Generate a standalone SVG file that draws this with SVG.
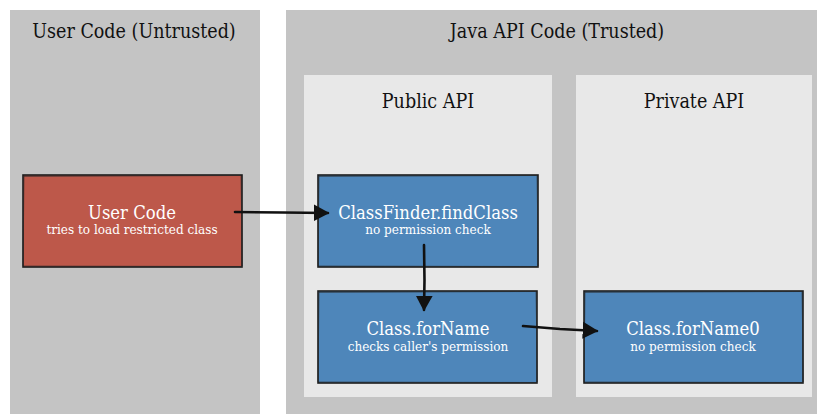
<svg xmlns="http://www.w3.org/2000/svg" width="817" height="414" viewBox="0 0 817 414">
  <style>
    .zone { fill: #c4c4c4; }
    .sub-zone { fill: #e8e8e8; }
    .zone-title { font-family: "DejaVu Serif Condensed", "DejaVu Serif", serif; font-size: 19.5px; fill: #111; text-anchor: middle; }
    .box { stroke: #1c1c1c; stroke-width: 1.6; }
    .box-edge { fill: none; stroke: #2a2a2a; stroke-width: 0.8; opacity: 0.7; }
    .red { fill: #bd584a; }
    .blue { fill: #4e86ba; }
    .label { font-family: "DejaVu Serif Condensed", "DejaVu Serif", serif; font-size: 18.3px; fill: #ffffff; text-anchor: middle; }
    .note { font-family: "DejaVu Serif Condensed", "DejaVu Serif", serif; font-size: 13.4px; fill: #ffffff; text-anchor: middle; }
    .wire { fill: none; stroke: #111; stroke-width: 2.6; stroke-linecap: round; }
  </style>
  <defs>
    <marker id="head" viewBox="0 0 12 14" refX="11" refY="7" markerWidth="6" markerHeight="7" markerUnits="strokeWidth" orient="auto">
      <path d="M0,0.5 L12,7 L0,13.5 Z" fill="#111"/>
    </marker>
  </defs>

  <!-- trust zones -->
  <g id="zone-user">
    <rect class="zone" x="10" y="10" width="250" height="404"/>
    <text class="zone-title" x="134" y="38">User Code (Untrusted)</text>
  </g>
  <g id="zone-java">
    <rect class="zone" x="286" y="10" width="531" height="404"/>
    <text class="zone-title" x="557" y="38">Java API Code (Trusted)</text>
  </g>
  <g id="zone-public">
    <rect class="sub-zone" x="304" y="75" width="248" height="322"/>
    <text class="zone-title" x="428" y="108">Public API</text>
  </g>
  <g id="zone-private">
    <rect class="sub-zone" x="576" y="75" width="236" height="322"/>
    <text class="zone-title" x="694" y="108">Private API</text>
  </g>

  <!-- nodes -->
  <g id="user-code">
    <rect class="box red" x="23" y="175" width="219" height="92"/>
    <path class="box-edge" d="M24,176.5 L241,175.5 M241,176 L242.5,266 M242,266.5 L23.5,266 M23,266 L24,175.5"/>
    <text class="label" x="132" y="219">User Code</text>
    <text class="note" x="132" y="234">tries to load restricted class</text>
  </g>
  <g id="class-finder">
    <rect class="box blue" x="318" y="175" width="220" height="92"/>
    <path class="box-edge" d="M319,176.5 L537,175.5 M537,176 L538.5,266 M538,266.5 L318.5,266 M318,266 L319,175.5"/>
    <text class="label" x="428" y="219">ClassFinder.findClass</text>
    <text class="note" x="428" y="234">no permission check</text>
  </g>
  <g id="for-name">
    <rect class="box blue" x="318" y="291" width="219" height="92"/>
    <path class="box-edge" d="M319,292.5 L536,291.5 M536,292 L537.5,382 M537,382.5 L318.5,382 M318,382 L319,291.5"/>
    <text class="label" x="428" y="335">Class.forName</text>
    <text class="note" x="428" y="351">checks caller's permission</text>
  </g>
  <g id="for-name0">
    <rect class="box blue" x="584" y="291" width="219" height="92"/>
    <path class="box-edge" d="M585,292.5 L802,291.5 M802,292 L803.5,382 M803,382.5 L584.5,382 M584,382 L585,291.5"/>
    <text class="label" x="693" y="335">Class.forName0</text>
    <text class="note" x="693" y="351">no permission check</text>
  </g>

  <!-- connectors -->
  <g id="connectors">
    <path class="wire" marker-end="url(#head)" d="M235,212 L283,212.5 L328,213"/>
    <path class="wire" marker-end="url(#head)" d="M424,245 L424.5,280 L424,310"/>
    <path class="wire" marker-end="url(#head)" d="M523,326 L560,329 L597,331"/>
  </g>
</svg>
